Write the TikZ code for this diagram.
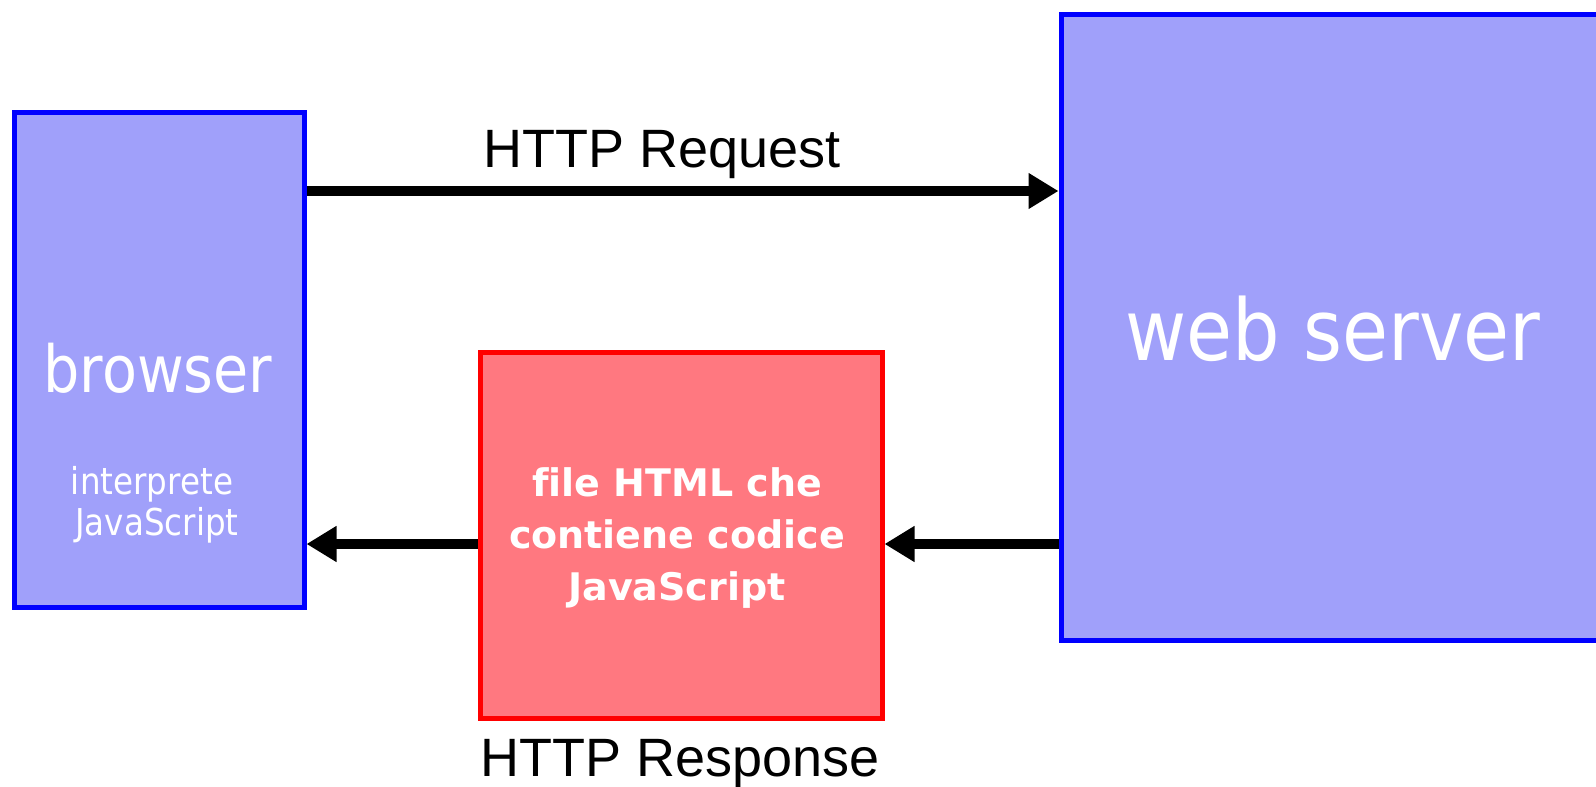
\documentclass[tikz,border=0pt]{standalone}
\usepackage{fontspec}
\usetikzlibrary{arrows.meta}
\newfontfamily\tah[FakeStretch=0.88]{DejaVu Sans}
\newfontfamily\verd[Ligatures=NoCommon]{DejaVu Sans}
\newfontfamily\ari{Liberation Sans}
\definecolor{boxblue}{RGB}{160,160,250}
\definecolor{edgeblue}{RGB}{0,0,255}
\definecolor{boxred}{RGB}{255,120,128}
\definecolor{edgered}{RGB}{255,0,0}
\begin{document}
\begin{tikzpicture}[x=1pt,y=-1pt,
  bluebox/.style={draw=edgeblue, fill=boxblue, line width=5pt, rectangle, inner sep=0pt},
  redbox/.style={draw=edgered, fill=boxred, line width=5pt, rectangle, inner sep=0pt},
  flow/.style={line width=10pt, -{Triangle[length=30pt,width=34pt]}},
  boxtext/.style={text=white, inner sep=0pt, anchor=base},
  label/.style={text=black, inner sep=0pt, anchor=base, font=\ari\fontsize{54}{64}\selectfont}
  ]
\clip (0,0) rectangle (1596,787);
\fill[white] (0,0) rectangle (1596,787);
\node[bluebox, minimum width=290pt, minimum height=495pt] (browser) at (159,359.5) {};
\node[bluebox, minimum width=560pt, minimum height=626pt] (server) at (1341,327) {};
\node[redbox, minimum width=402pt, minimum height=366pt] (html) at (681,535) {};
\node[boxtext, font=\tah\fontsize{65}{78}\selectfont] (browsertxt) at (158,392) {browser};
\node[boxtext, font=\tah\fontsize{37}{41}\selectfont] (interptxt) at (152,494) {interprete};
\node[boxtext, font=\tah\fontsize{37}{41}\selectfont] (jstxt) at (157,535) {JavaScript};
\node[boxtext, font=\tah\fontsize{85}{100}\selectfont] (servertxt) at (1333,360) {web server};
\node[boxtext, font=\verd\bfseries\fontsize{38}{52}\selectfont, align=center] (htmltxt) at (677,600) {file HTML che\\contiene codice\\JavaScript};
\node[label] (reqlabel) at (662,167) {HTTP Request};
\node[label] (resplabel) at (680,776) {HTTP Response};
\coordinate (reqy) at (0,191);
\coordinate (respy) at (0,544);
\draw[flow] (browser.east |- reqy) -- (server.west |- reqy);
\draw[flow] (server.west |- respy) -- (html.east |- respy);
\draw[flow] (html.west |- respy) -- (browser.east |- respy);
\end{tikzpicture}
\end{document}
